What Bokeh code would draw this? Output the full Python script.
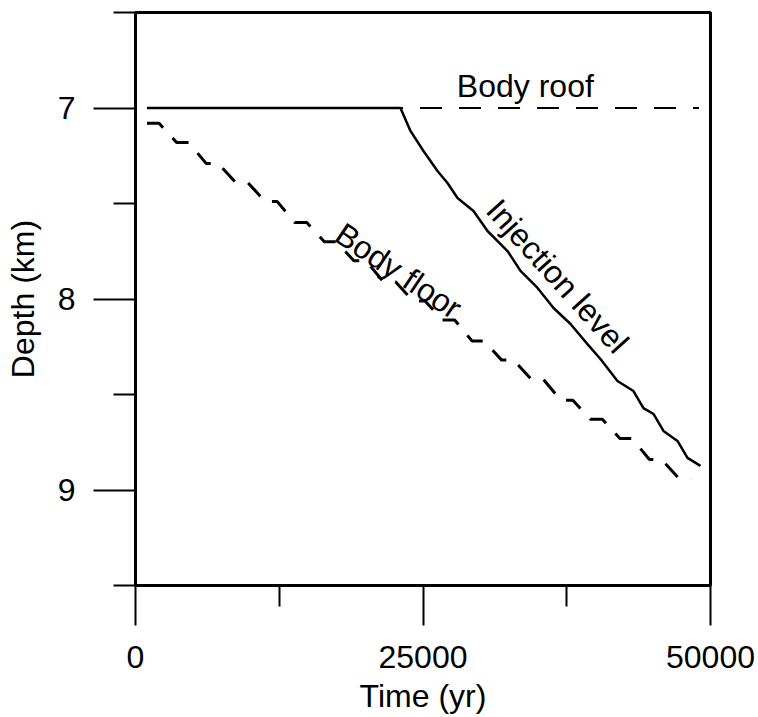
from bokeh.plotting import figure
from bokeh.models import Range1d, FixedTicker, Label
from bokeh.embed import file_html
from bokeh.resources import INLINE

# ---- data (time in yr, depth in km) ----
x_ticks = [0, 25000, 50000]
x_minor = [12500, 37500]
x_labels = ["0", "25000", "50000"]
y_ticks = [7, 8, 9]
y_minor = [6.5, 7.5, 8.5, 9.5]
y_labels = ["7", "8", "9"]

roof_t = [1000, 49000]
roof_d = [7.0, 7.0]

inj_t = [1000, 23040, 23910, 25040, 26260, 27130, 28000, 29390, 30610, 32350,
         33480, 34960, 36350, 37830, 39300, 40430, 41910, 43300, 44170, 45040,
         45910, 47130, 48000, 49130]
inj_d = [7.0, 7.0, 7.12, 7.225, 7.33, 7.393, 7.471, 7.539, 7.644, 7.749,
         7.853, 7.942, 8.047, 8.131, 8.236, 8.314, 8.429, 8.482, 8.571, 8.602,
         8.691, 8.743, 8.832, 8.874]

floor_t = [1000, 2050, 3570, 4620, 6140, 7190, 8710, 9760, 11280, 12330,
           13850, 14900, 16420, 17470, 18990, 20040, 21560, 22610, 24130, 25180,
           26700, 27750, 29270, 30320, 31840, 32890, 34410, 35460, 36980, 38030,
           39550, 40600, 42120, 43170, 44690, 45740, 47260, 48310]
floor_d = [7.08, 7.08, 7.18, 7.18, 7.29, 7.29, 7.39, 7.39, 7.49, 7.49,
           7.60, 7.60, 7.70, 7.70, 7.80, 7.80, 7.91, 7.91, 8.01, 8.01,
           8.11, 8.11, 8.22, 8.22, 8.32, 8.32, 8.42, 8.42, 8.53, 8.53,
           8.63, 8.63, 8.73, 8.73, 8.84, 8.84, 8.94, 8.94]

FONT = "Liberation Sans"

p = figure(width=758, height=717, output_backend="svg", toolbar_location=None,
           x_range=Range1d(0, 50000), y_range=Range1d(9.5, 6.5),
           min_border_left=135, min_border_right=48, min_border_top=12,
           min_border_bottom=132)
p.grid.visible = False
p.outline_line_color = "black"
p.outline_line_width = 3
p.background_fill_color = "white"
p.border_fill_color = "white"

for ax, ticks, minor, labels, mt, mn in [
        (p.xaxis[0], x_ticks, x_minor, x_labels, 40, 21),
        (p.yaxis[0], y_ticks, y_minor, y_labels, 42, 22)]:
    ax.ticker = FixedTicker(ticks=ticks, minor_ticks=minor)
    ax.major_label_overrides = {t: l for t, l in zip(ticks, labels)}
    ax.axis_line_width = 3
    ax.axis_line_color = "black"
    ax.major_tick_line_width = 2
    ax.minor_tick_line_width = 2
    ax.major_tick_line_color = "black"
    ax.minor_tick_line_color = "black"
    ax.major_tick_in = 0
    ax.minor_tick_in = 0
    ax.major_tick_out = mt
    ax.minor_tick_out = mn
    ax.major_label_text_font = FONT
    ax.major_label_text_font_size = "32px"
    ax.major_label_text_color = "black"
    ax.axis_label_text_font = FONT
    ax.axis_label_text_font_size = "32px"
    ax.axis_label_text_font_style = "normal"
    ax.axis_label_text_color = "black"

p.xaxis.axis_label = "Time (yr)"
p.xaxis.major_label_standoff = 20
p.xaxis.axis_label_standoff = 7
p.xaxis.major_label_text_line_height = 0.9
p.xaxis.axis_label_text_line_height = 0.9
p.yaxis.axis_label = "Depth (km)"
p.yaxis.major_label_standoff = 18
p.yaxis.major_label_orientation = "horizontal"
p.yaxis.axis_label_standoff = 14

p.line(roof_t, roof_d, line_color="black", line_width=2, line_dash="22 17")
p.line(floor_t, floor_d, line_color="black", line_width=3, line_dash="18 14")
p.line(inj_t, inj_d, line_color="black", line_width=2.5)

for txt, x, y, ang in [("Body roof", 33900, 6.885, 0),
                       ("Body floor", 22870, 7.853, -34),
                       ("Injection level", 36700, 7.88, -48)]:
    p.add_layout(Label(x=x, y=y, text=txt, angle=ang, angle_units="deg",
                       text_font=FONT, text_font_size="32px", text_color="black",
                       text_align="center", text_baseline="middle"))

open("out.html", "w").write(file_html(p, INLINE))
